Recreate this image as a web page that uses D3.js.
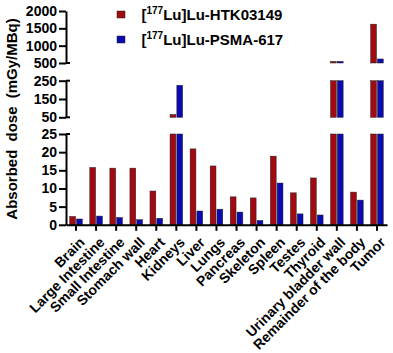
<!DOCTYPE html>
<html><head><meta charset="utf-8">
<script src="https://cdn.jsdelivr.net/npm/d3@7"></script>
<style>
html,body{margin:0;padding:0;background:#fff;}
svg{display:block;font-family:"Liberation Sans",Arial,sans-serif;font-weight:bold;}
</style></head>
<body><svg id="c" width="393" height="353"></svg>
<script>
const categories = ["Brain","Large Intestine","Small Intestine","Stomach wall","Heart","Kidneys","Liver","Lungs","Pancreas","Skeleton","Spleen","Testes","Thyroid","Urinary bladder wall","Remainder of the body","Tumor"];
const htk = [2.3,15.8,15.6,15.6,9.3,65,20.9,16.2,7.7,7.4,18.9,8.8,12.9,545,9.0,1620];
const psma = [1.6,2.4,2.0,1.4,1.8,225,3.8,4.3,3.5,1.2,11.5,3.0,2.7,545,6.8,616];
const seriesNames = ["HTK03149","PSMA-617"];
const colors = ["#a00a10","#0a0ab0"];
const ticksLow = [0,5,10,15,20,25];
const ticksMid = [50,150,250];
const ticksHigh = [500,1000,1500,2000];

const svg = d3.select("#c");
const xLeft = 66, xRight = 387;
const x = d3.scaleBand().domain(categories).range([xLeft, xRight]).paddingInner(0).paddingOuter(0);
const segs = [
  {dom:[0,25], rng:[224.8,134], ticks:ticksLow},
  {dom:[50,250], rng:[117.3,80.7], ticks:ticksMid},
  {dom:[500,2000], rng:[63,11], ticks:ticksHigh}
];
segs.forEach(s => s.y = d3.scaleLinear().domain(s.dom).range(s.rng));

const barW = 5.8, gap = 1;
const data = [htk, psma];
segs.forEach(s => {
  data.forEach((vals, si) => {
    svg.append("g").selectAll("rect").data(categories.map((c,i)=>({c, v:vals[i]})).filter(d => d.v > s.dom[0]))
      .join("rect")
      .attr("x", d => x(d.c) + x.bandwidth()/2 + (si===0 ? -(barW + gap/2) : gap/2))
      .attr("width", barW)
      .attr("y", d => s.y(Math.min(d.v, s.dom[1])))
      .attr("height", d => s.y(s.dom[0]) - s.y(Math.min(d.v, s.dom[1])))
      .attr("fill", colors[si])
      .attr("stroke", "#222")
      .attr("stroke-width", 0.5);
  });
});

// Y axes
segs.forEach(s => {
  const g = svg.append("g").attr("transform", `translate(${xLeft},0)`)
    .call(d3.axisLeft(s.y).tickValues(s.ticks).tickSize(7).tickSizeOuter(0).tickFormat(d3.format("d")));
  g.select(".domain").attr("stroke", "#000").attr("stroke-width", 2);
  g.selectAll(".tick line").attr("stroke", "#000").attr("stroke-width", 2);
  g.selectAll(".tick text").attr("font-size", 14).attr("font-weight", "bold").attr("fill", "#000")
    .attr("font-family", "Liberation Sans, Arial, sans-serif").attr("x", -9);
  [s.dom[0], s.dom[1]].forEach(v => {
    if (v === 0 || v === 2000) return;
    svg.append("line").attr("x1", xLeft).attr("x2", xLeft + 4)
      .attr("y1", s.y(v)).attr("y2", s.y(v)).attr("stroke", "#000").attr("stroke-width", 2);
  });
});

// X axis
const gx = svg.append("g").attr("transform", `translate(0,${segs[0].y(0)})`)
  .call(d3.axisBottom(x).tickSize(6).tickSizeOuter(0));
gx.select(".domain").attr("stroke", "#000").attr("stroke-width", 2);
gx.selectAll(".tick line").attr("stroke", "#000").attr("stroke-width", 2);
gx.selectAll(".tick text")
  .attr("font-size", 14).attr("font-weight", "bold").attr("fill", "#000")
  .attr("font-family", "Liberation Sans, Arial, sans-serif")
  .attr("text-anchor", "end")
  .attr("transform", "translate(6,15) rotate(-45)")
  .attr("dy", "0.35em").attr("y", 0).attr("x", 0);

// Y label
svg.append("text")
  .attr("transform", "translate(17,119) rotate(-90)")
  .attr("text-anchor", "middle")
  .attr("font-size", 15).attr("font-weight", "bold").attr("fill", "#000")
  .attr("word-spacing", "4")
  .text("Absorbed dose (mGy/MBq)");

// Legend
const leg = svg.append("g");
seriesNames.forEach((n, i) => {
  const yy = 14.5 + i * 25;
  leg.append("rect").attr("x", 117).attr("y", yy - 3.5).attr("width", 8).attr("height", 7)
    .attr("fill", colors[i]).attr("stroke", "#222").attr("stroke-width", 0.5);
  const t = leg.append("text").attr("x", 141.5).attr("y", yy + 5.5)
    .attr("font-size", 15).attr("font-weight", "bold").attr("fill", "#000");
  t.append("tspan").text("[");
  t.append("tspan").attr("font-size", 10).attr("dy", -6).text("177");
  t.append("tspan").attr("dy", 6).text("Lu]Lu-" + n);
});
</script></body></html>
